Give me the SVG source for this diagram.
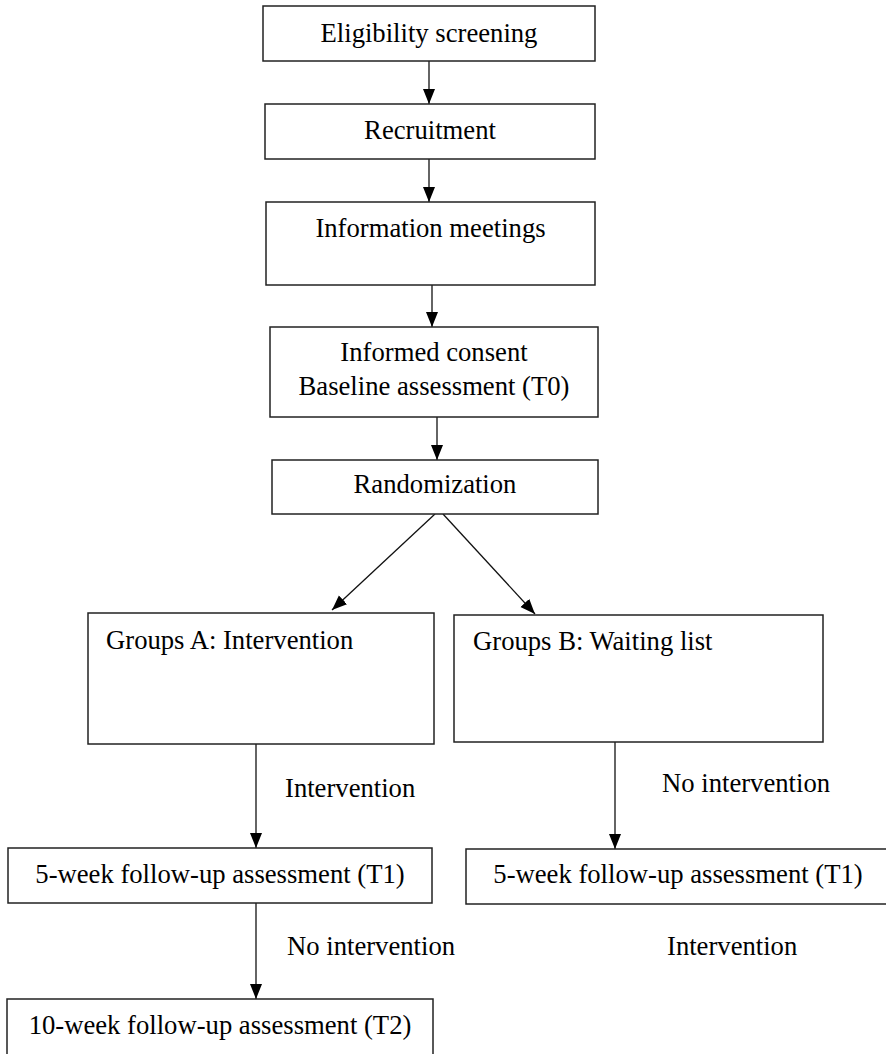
<svg xmlns="http://www.w3.org/2000/svg" width="886" height="1054" viewBox="0 0 886 1054">
<style>
.box{fill:#fff;stroke:#222;stroke-width:1.5}
.t{font-family:"Liberation Serif","Times New Roman",serif;font-size:26.67px;fill:#000}
.m{text-anchor:middle}
.c{stroke:#111;stroke-width:1.3;fill:none;marker-end:url(#ah)}
</style>
<defs>
<marker id="ah" markerUnits="userSpaceOnUse" markerWidth="16" markerHeight="13" viewBox="0 0 16 13" refX="15" refY="6.5" orient="auto">
<path d="M0,0.5 L15,6.5 L0,12.5 Z" fill="#000"/>
</marker>
</defs>
<rect width="886" height="1054" fill="#fff"/>
<g id="connectors">
<line class="c" x1="429" y1="61" x2="429" y2="104"/>
<line class="c" x1="429" y1="159" x2="429" y2="202"/>
<line class="c" x1="432" y1="285" x2="432" y2="327"/>
<line class="c" x1="437" y1="417" x2="437" y2="460"/>
<line class="c" x1="435" y1="514" x2="332" y2="610"/>
<line class="c" x1="443" y1="514" x2="535" y2="614"/>
<line class="c" x1="256" y1="744" x2="256" y2="848"/>
<line class="c" x1="615" y1="742" x2="615" y2="849"/>
<line class="c" x1="256" y1="903" x2="256" y2="999"/>
<text class="t" x="285" y="797">Intervention</text>
<text class="t" x="662" y="792">No intervention</text>
<text class="t" x="287" y="955">No intervention</text>
<text class="t" x="667" y="955">Intervention</text>
</g>
<g id="n1"><rect class="box" x="263" y="6" width="332" height="55"/><text class="t m" x="429" y="42">Eligibility screening</text></g>
<g id="n2"><rect class="box" x="265" y="104" width="330" height="55"/><text class="t m" x="430" y="139">Recruitment</text></g>
<g id="n3"><rect class="box" x="266" y="202" width="329" height="83"/><text class="t m" x="430.5" y="237">Information meetings</text></g>
<g id="n4"><rect class="box" x="270" y="327" width="328" height="90"/><text class="t m" x="434" y="361">Informed consent</text><text class="t m" x="434" y="395">Baseline assessment (T0)</text></g>
<g id="n5"><rect class="box" x="272" y="460" width="326" height="54"/><text class="t m" x="435" y="493">Randomization</text></g>
<g id="n6"><rect class="box" x="88" y="613" width="346" height="131"/><text class="t" x="106" y="649">Groups A: Intervention</text></g>
<g id="n7"><rect class="box" x="454" y="615" width="369" height="127"/><text class="t" x="473" y="650">Groups B: Waiting list</text></g>
<g id="n8"><rect class="box" x="8" y="848" width="424" height="55"/><text class="t m" x="220" y="883">5-week follow-up assessment (T1)</text></g>
<g id="n9"><rect class="box" x="466" y="849" width="430" height="55"/><text class="t m" x="678" y="883">5-week follow-up assessment (T1)</text></g>
<g id="n10"><rect class="box" x="7" y="999" width="426" height="70"/><text class="t m" x="220" y="1034">10-week follow-up assessment (T2)</text></g>
</svg>
